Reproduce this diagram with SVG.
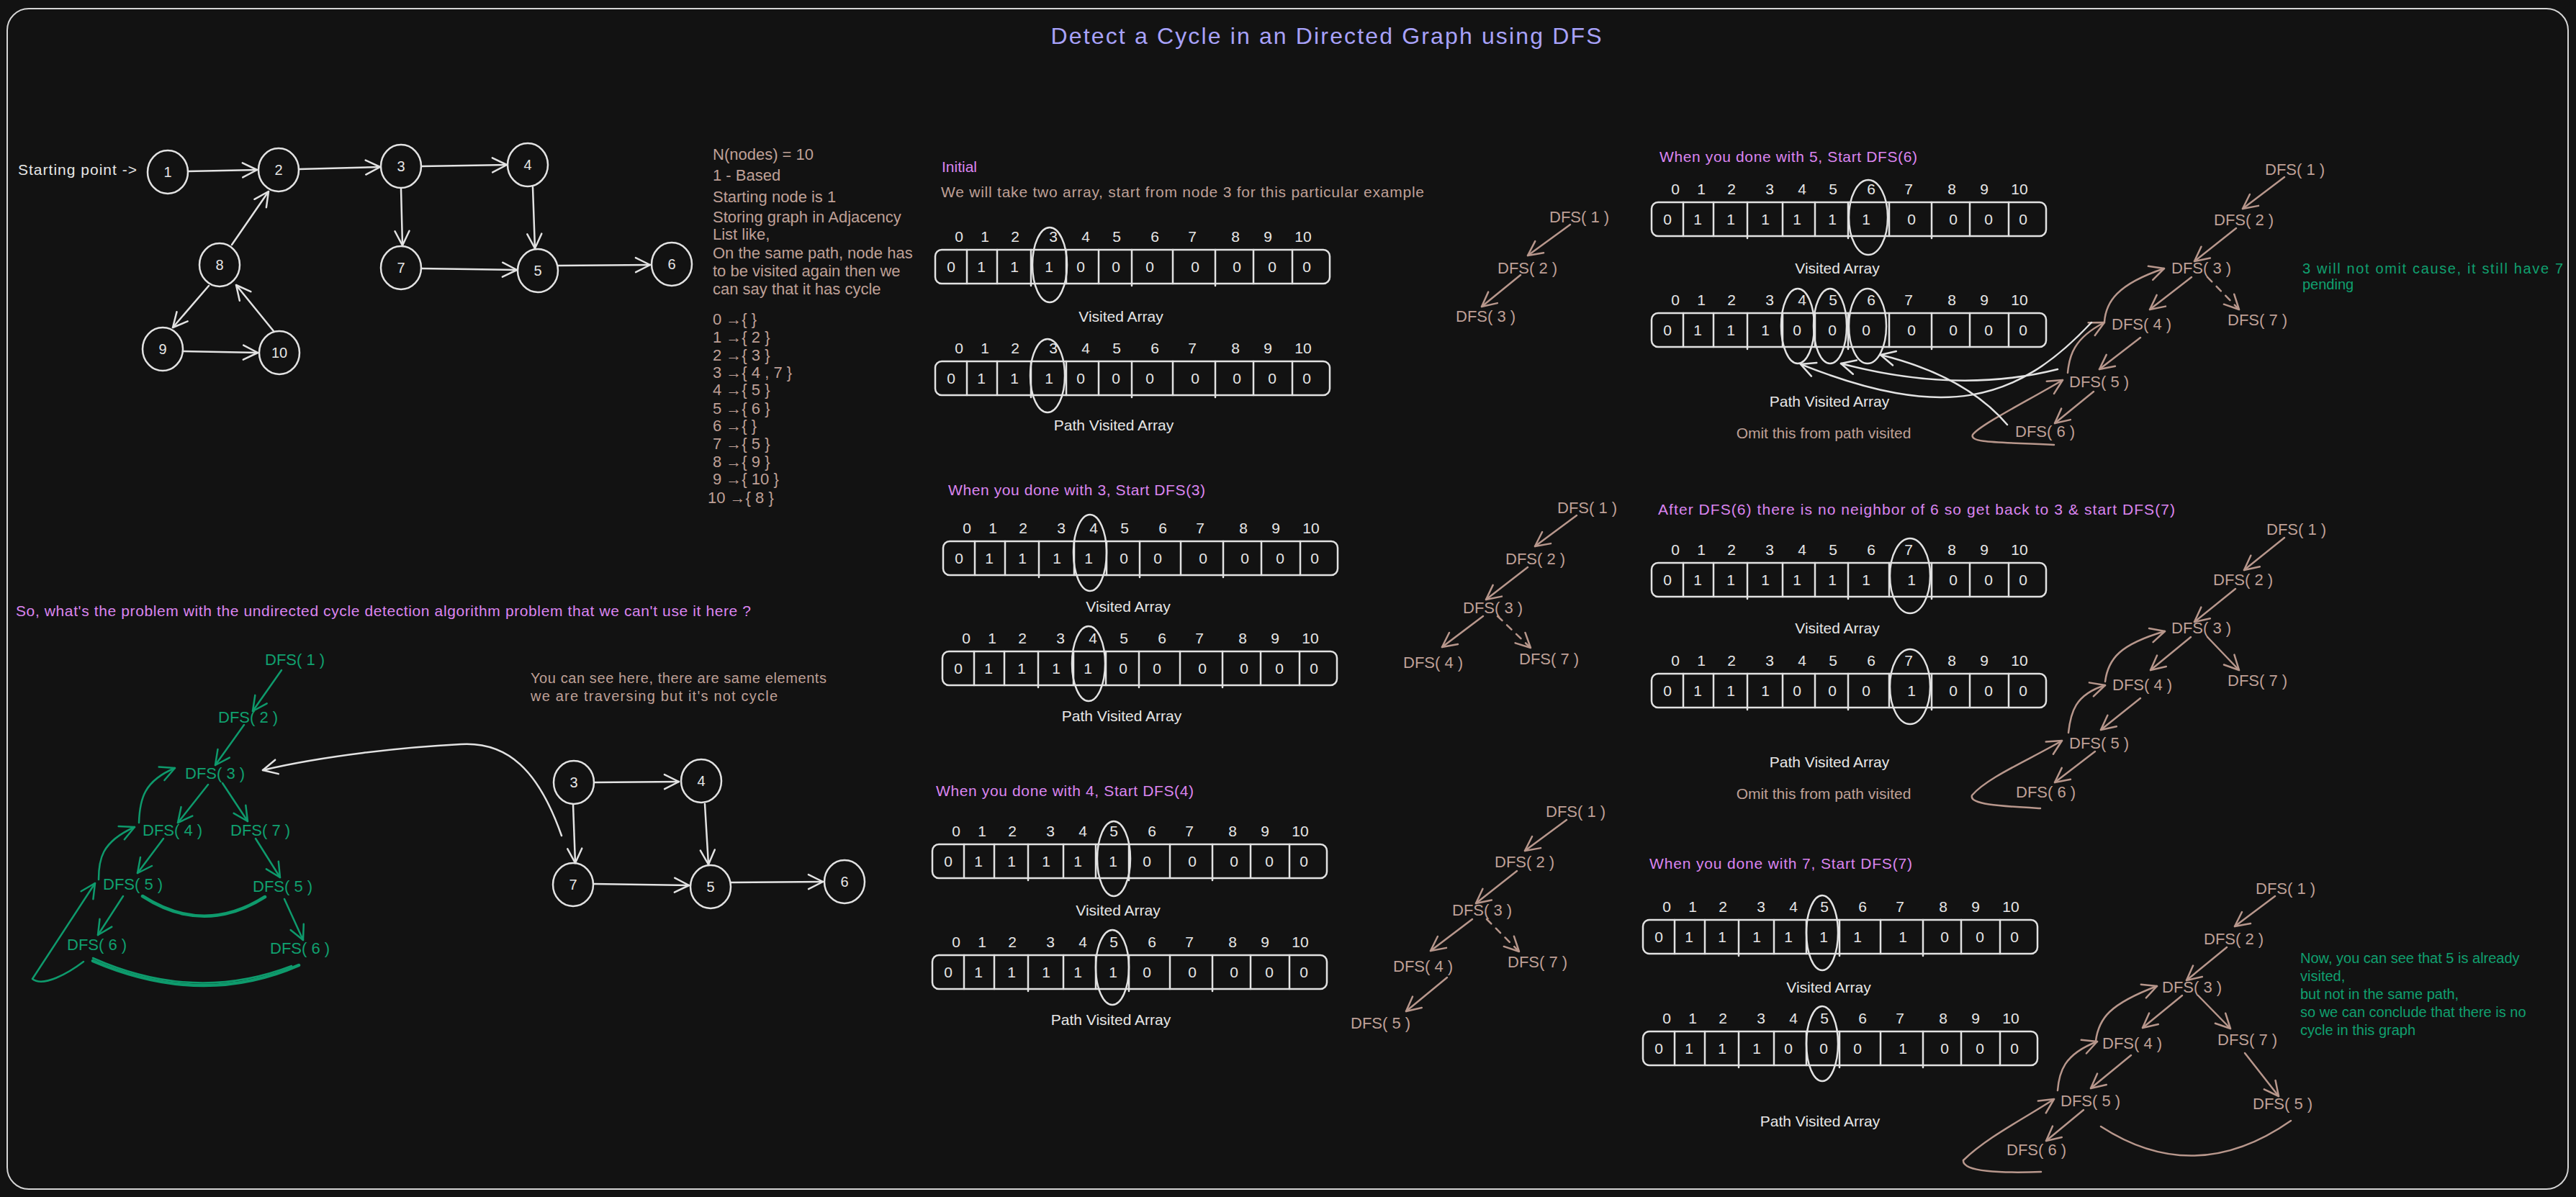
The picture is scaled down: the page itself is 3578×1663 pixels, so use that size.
<svg xmlns="http://www.w3.org/2000/svg" width="3578" height="1663" viewBox="0 0 3578 1663">
<defs>
<style>
text{font-family:"Liberation Sans","DejaVu Sans",sans-serif;font-size:21px}
.w{fill:none;stroke:#e2e2e2;stroke-width:2.5;stroke-linecap:round;stroke-linejoin:round}
.tn{fill:none;stroke:#b8978c;stroke-width:2.5;stroke-linecap:round;stroke-linejoin:round}
.gr{fill:none;stroke:#0e9a6c;stroke-width:2.5;stroke-linecap:round;stroke-linejoin:round}
.thick{stroke-width:4.5}
.dash{stroke-dasharray:9 9}
.cw{fill:#e6e6e6}.ct{fill:#bfa097}.cp{fill:#db85f0}.cg{fill:#10a06f}
.num{font-size:21px;text-anchor:middle;fill:#e6e6e6}
.nd{font-size:20px;text-anchor:middle;fill:#e6e6e6}
.dfs text{font-size:22px}
.info text{font-size:22px}
.mid{text-anchor:middle}
.aw{marker-end:url(#mw)}.at{marker-end:url(#mt)}.ag{marker-end:url(#mg)}
</style>
<marker id="mw" viewBox="-24 -14 28 28" refX="0" refY="0" markerWidth="28" markerHeight="28" markerUnits="userSpaceOnUse" orient="auto"><path d="M-20,-10 L0,0 L-20,10" fill="none" stroke="#e2e2e2" stroke-width="2.5" stroke-linecap="round" stroke-linejoin="round"/></marker>
<marker id="mt" viewBox="-24 -14 28 28" refX="0" refY="0" markerWidth="28" markerHeight="28" markerUnits="userSpaceOnUse" orient="auto"><path d="M-20,-10 L0,0 L-20,10" fill="none" stroke="#b8978c" stroke-width="2.5" stroke-linecap="round" stroke-linejoin="round"/></marker>
<marker id="mg" viewBox="-24 -14 28 28" refX="0" refY="0" markerWidth="28" markerHeight="28" markerUnits="userSpaceOnUse" orient="auto"><path d="M-20,-10 L0,0 L-20,10" fill="none" stroke="#0e9a6c" stroke-width="2.5" stroke-linecap="round" stroke-linejoin="round"/></marker>
<g id="arr">
<rect x="0" y="0" width="548" height="47" rx="9" class="w"/>
<path class="w" d="M44,0V47M86,0V47M133,0V50M182,0V47M227,0V47M273,0V50M330,0V47M389,0V50M442,0V47M496,0V47"/>
<text class="num" x="33 69 111 164 209 252 305 357 417 462" y="-11">0123456789</text>
<text class="num" x="511" y="-11">10</text>
</g>
</defs>
<rect x="0" y="0" width="3578" height="1663" fill="#121212"/>
<rect x="10" y="12" width="3557" height="1640" rx="30" fill="none" stroke="#d5d5d5" stroke-width="2"/>
<text x="1842" y="61" text-anchor="middle" fill="#a8a2fb" textLength="765" style="font-size:32px">Detect a Cycle in an Directed Graph using DFS</text>

<!-- top-left graph -->
<text class="cw" x="25" y="243" textLength="165">Starting point -&gt;</text>
<g id="g1n1"><ellipse class="w" cx="233" cy="239" rx="28" ry="30"/><text class="nd" x="233" y="246">1</text></g>
<g id="g1n2"><ellipse class="w" cx="387" cy="236" rx="28" ry="30"/><text class="nd" x="387" y="243">2</text></g>
<g id="g1n3"><ellipse class="w" cx="557" cy="231" rx="28" ry="30"/><text class="nd" x="557" y="238">3</text></g>
<g id="g1n4"><ellipse class="w" cx="733" cy="229" rx="28" ry="30"/><text class="nd" x="733" y="236">4</text></g>
<g id="g1n5"><ellipse class="w" cx="747" cy="376" rx="28" ry="30"/><text class="nd" x="747" y="383">5</text></g>
<g id="g1n6"><ellipse class="w" cx="933" cy="367" rx="28" ry="30"/><text class="nd" x="933" y="374">6</text></g>
<g id="g1n7"><ellipse class="w" cx="557" cy="372" rx="28" ry="30"/><text class="nd" x="557" y="379">7</text></g>
<g id="g1n8"><ellipse class="w" cx="305" cy="368" rx="28" ry="30"/><text class="nd" x="305" y="375">8</text></g>
<g id="g1n9"><ellipse class="w" cx="226" cy="485" rx="28" ry="30"/><text class="nd" x="226" y="492">9</text></g>
<g id="g1n10"><ellipse class="w" cx="388" cy="490" rx="28" ry="30"/><text class="nd" x="388" y="497">10</text></g>
<g id="g1edges">
<path class="w aw" d="M261,238 L357,236"/>
<path class="w aw" d="M415,235 L528,232"/>
<path class="w aw" d="M586,231 L704,229"/>
<path class="w aw" d="M557,262 L559,341"/>
<path class="w aw" d="M740,260 L743,345"/>
<path class="w aw" d="M586,373 L718,375"/>
<path class="w aw" d="M775,369 L903,368"/>
<path class="w aw" d="M322,340 L373,266"/>
<path class="w aw" d="M290,397 L240,455"/>
<path class="w aw" d="M380,460 L328,396"/>
<path class="w aw" d="M254,488 L358,490"/>
</g>

<!-- text block -->
<g id="info" class="ct info">
<text x="990" y="222">N(nodes) = 10</text>
<text x="990" y="251">1 - Based</text>
<text x="990" y="281">Starting node is 1</text>
<text x="990" y="309">Storing graph in Adjacency</text>
<text x="990" y="333">List like,</text>
<text x="990" y="359">On the same path, node has</text>
<text x="990" y="384">to be visited again then we</text>
<text x="990" y="409">can say that it has cycle</text>
<text x="990" y="451">0 →{ }</text>
<text x="990" y="476">1 →{ 2 }</text>
<text x="990" y="501">2 →{ 3 }</text>
<text x="990" y="525">3 →{ 4 , 7 }</text>
<text x="990" y="549">4 →{ 5 }</text>
<text x="990" y="575">5 →{ 6 }</text>
<text x="990" y="599">6 →{ }</text>
<text x="990" y="624">7 →{ 5 }</text>
<text x="990" y="649">8 →{ 9 }</text>
<text x="990" y="673">9 →{ 10 }</text>
<text x="983" y="699">10 →{ 8 }</text>
</g>

<!-- Initial section -->
<text class="cp" x="1308" y="239">Initial</text>
<text class="ct" x="1307" y="274" textLength="671">We will take two array, start from node 3 for this particular example</text>
<g id="arrA1" transform="translate(1299,347)"><use href="#arr"/><text class="num" x="22 64 110 158 202 251 298 361 419 468 516" y="31">01110000000</text><ellipse class="w" cx="159" cy="21" rx="24" ry="52"/></g>
<text class="cw mid" x="1557" y="447">Visited Array</text>
<g id="arrA2" transform="translate(1299,502)"><use href="#arr"/><text class="num" x="22 64 110 158 202 251 298 361 419 468 516" y="31">01110000000</text><ellipse class="w" cx="156" cy="20" rx="24" ry="51"/></g>
<text class="cw mid" x="1547" y="598">Path Visited Array</text>

<!-- done with 3 -->
<text class="cp" x="1317" y="688" textLength="357">When you done with 3, Start DFS(3)</text>
<g id="arrB1" transform="translate(1310,752)"><use href="#arr"/><text class="num" x="22 64 110 158 202 251 298 361 419 468 516" y="31">01111000000</text><ellipse class="w" cx="204" cy="16" rx="23" ry="53"/></g>
<text class="cw mid" x="1567" y="850">Visited Array</text>
<g id="arrB2" transform="translate(1309,905)"><use href="#arr"/><text class="num" x="22 64 110 158 202 251 298 361 419 468 516" y="31">01111000000</text><ellipse class="w" cx="203" cy="17" rx="23" ry="52"/></g>
<text class="cw mid" x="1558" y="1002">Path Visited Array</text>

<!-- done with 4 -->
<text class="cp" x="1300" y="1106" textLength="358">When you done with 4, Start DFS(4)</text>
<g id="arrC1" transform="translate(1295,1173)"><use href="#arr"/><text class="num" x="22 64 110 158 202 251 298 361 419 468 516" y="31">01111100000</text><ellipse class="w" cx="252" cy="20" rx="23" ry="52"/></g>
<text class="cw mid" x="1553" y="1272">Visited Array</text>
<g id="arrC2" transform="translate(1295,1327)"><use href="#arr"/><text class="num" x="22 64 110 158 202 251 298 361 419 468 516" y="31">01111100000</text><ellipse class="w" cx="250" cy="17" rx="23" ry="52"/></g>
<text class="cw mid" x="1543" y="1424">Path Visited Array</text>

<!-- done with 5 -->
<text class="cp" x="2305" y="225" textLength="358">When you done with 5, Start DFS(6)</text>
<g id="arrD1" transform="translate(2294,281)"><use href="#arr"/><text class="num" x="22 64 110 158 202 251 298 361 419 468 516" y="31">01111110000</text><ellipse class="w" cx="301" cy="21" rx="27" ry="52"/></g>
<text class="cw mid" x="2552" y="380">Visited Array</text>
<g id="arrD2" transform="translate(2294,435)"><use href="#arr"/><text class="num" x="22 64 110 158 202 251 298 361 419 468 516" y="31">01110000000</text><ellipse class="w" cx="203" cy="18" rx="23" ry="52"/><ellipse class="w" cx="248" cy="18" rx="23" ry="52"/><ellipse class="w" cx="300" cy="18" rx="26" ry="52"/></g>
<text class="cw mid" x="2541" y="565">Path Visited Array</text>
<text class="ct mid" x="2533" y="609">Omit this from path visited</text>

<!-- after DFS(6) -->
<text class="cp" x="2303" y="715" textLength="718">After DFS(6) there is no neighbor of 6 so get back to 3 &amp; start DFS(7)</text>
<g id="arrE1" transform="translate(2294,782)"><use href="#arr"/><text class="num" x="22 64 110 158 202 251 298 361 419 468 516" y="31">01111111000</text><ellipse class="w" cx="359" cy="18" rx="28" ry="52"/></g>
<text class="cw mid" x="2552" y="880">Visited Array</text>
<g id="arrE2" transform="translate(2294,936)"><use href="#arr"/><text class="num" x="22 64 110 158 202 251 298 361 419 468 516" y="31">01110001000</text><ellipse class="w" cx="359" cy="18" rx="28" ry="52"/></g>
<text class="cw mid" x="2541" y="1066">Path Visited Array</text>
<text class="ct mid" x="2533" y="1110">Omit this from path visited</text>

<!-- done with 7 -->
<text class="cp" x="2291" y="1207" textLength="365">When you done with  7, Start DFS(7)</text>
<g id="arrF1" transform="translate(2282,1278)"><use href="#arr"/><text class="num" x="22 64 110 158 202 251 298 361 419 468 516" y="31">01111111000</text><ellipse class="w" cx="249" cy="18" rx="22" ry="52"/></g>
<text class="cw mid" x="2540" y="1379">Visited Array</text>
<g id="arrF2" transform="translate(2282,1433)"><use href="#arr"/><text class="num" x="22 64 110 158 202 251 298 361 419 468 516" y="31">01110001000</text><ellipse class="w" cx="249" cy="17" rx="22" ry="52"/></g>
<text class="cw mid" x="2528" y="1565">Path Visited Array</text>

<!-- tree T1 -->
<g id="t1" class="ct dfs">
<text x="2152" y="309">DFS( 1 )</text>
<text x="2080" y="380">DFS( 2 )</text>
<text x="2022" y="447">DFS( 3 )</text>
</g>
<!-- tree T2 -->
<g id="t2" class="ct dfs">
<text x="2163" y="713">DFS( 1 )</text>
<text x="2091" y="784">DFS( 2 )</text>
<text x="2032" y="852">DFS( 3 )</text>
<text x="1949" y="928">DFS( 4 )</text>
<text x="2110" y="923">DFS( 7 )</text>
</g>
<!-- tree T3 -->
<g id="t3" class="ct dfs">
<text x="2147" y="1135">DFS( 1 )</text>
<text x="2076" y="1205">DFS( 2 )</text>
<text x="2017" y="1272">DFS( 3 )</text>
<text x="1935" y="1350">DFS( 4 )</text>
<text x="2094" y="1344">DFS( 7 )</text>
<text x="1876" y="1429">DFS( 5 )</text>
</g>
<!-- tree T4 -->
<g id="t4" class="ct dfs">
<text x="3146" y="243">DFS( 1 )</text>
<text x="3075" y="313">DFS( 2 )</text>
<text x="3016" y="380">DFS( 3 )</text>
<text x="2933" y="458">DFS( 4 )</text>
<text x="3094" y="452">DFS( 7 )</text>
<text x="2874" y="538">DFS( 5 )</text>
<text x="2799" y="607">DFS( 6 )</text>
</g>
<text class="cg" x="3198" y="380" style="font-size:20px" textLength="362">3 will not omit cause, it still have 7</text>
<text class="cg" x="3198" y="402" style="font-size:20px">pending</text>
<!-- tree T5 -->
<g id="t5" class="ct dfs">
<text x="3148" y="743">DFS( 1 )</text>
<text x="3074" y="813">DFS( 2 )</text>
<text x="3016" y="880">DFS( 3 )</text>
<text x="2934" y="959">DFS( 4 )</text>
<text x="3094" y="953">DFS( 7 )</text>
<text x="2874" y="1040">DFS( 5 )</text>
<text x="2800" y="1108">DFS( 6 )</text>
</g>
<!-- tree T6 -->
<g id="t6" class="ct dfs">
<text x="3133" y="1242">DFS( 1 )</text>
<text x="3061" y="1312">DFS( 2 )</text>
<text x="3003" y="1379">DFS( 3 )</text>
<text x="2920" y="1457">DFS( 4 )</text>
<text x="3080" y="1452">DFS( 7 )</text>
<text x="2862" y="1537">DFS( 5 )</text>
<text x="3129" y="1541">DFS( 5 )</text>
<text x="2787" y="1605">DFS( 6 )</text>
</g>
<g id="note6" class="cg">
<text x="3195" y="1338" style="font-size:20px">Now, you can see that 5 is already</text>
<text x="3195" y="1363" style="font-size:20px">visited,</text>
<text x="3195" y="1388" style="font-size:20px">but not in the same path,</text>
<text x="3195" y="1413" style="font-size:20px">so we can conclude that there is no</text>
<text x="3195" y="1438" style="font-size:20px">cycle in this graph</text>
</g>

<!-- bottom-left -->
<text class="cp" x="22" y="856" textLength="1021">So, what's the problem with the undirected cycle detection algorithm problem that we can't use it here ?</text>
<g id="gt" class="cg dfs">
<text x="368" y="924">DFS( 1 )</text>
<text x="303" y="1004">DFS( 2 )</text>
<text x="257" y="1082">DFS( 3 )</text>
<text x="198" y="1161">DFS( 4 )</text>
<text x="320" y="1161">DFS( 7 )</text>
<text x="143" y="1236">DFS( 5 )</text>
<text x="351" y="1239">DFS( 5 )</text>
<text x="93" y="1320">DFS( 6 )</text>
<text x="375" y="1325">DFS( 6 )</text>
</g>
<text class="ct" x="737" y="949" style="font-size:20px" textLength="411">You can see here, there are same elements</text>
<text class="ct" x="737" y="974" style="font-size:20px" textLength="343">we are traversing but it's not cycle</text>
<g id="g2n3"><ellipse class="w" cx="797" cy="1087" rx="28" ry="30"/><text class="nd" x="797" y="1094">3</text></g>
<g id="g2n4"><ellipse class="w" cx="974" cy="1085" rx="28" ry="30"/><text class="nd" x="974" y="1092">4</text></g>
<g id="g2n7"><ellipse class="w" cx="796" cy="1229" rx="28" ry="30"/><text class="nd" x="796" y="1236">7</text></g>
<g id="g2n5"><ellipse class="w" cx="987" cy="1232" rx="28" ry="30"/><text class="nd" x="987" y="1239">5</text></g>
<g id="g2n6"><ellipse class="w" cx="1173" cy="1225" rx="28" ry="30"/><text class="nd" x="1173" y="1232">6</text></g>

<!-- connectors -->
<g id="connectors">
<path class="w aw" d="M825,1087 L943,1086"/>
<path class="w aw" d="M796,1118 L799,1199"/>
<path class="w aw" d="M979,1117 L984,1201"/>
<path class="w aw" d="M825,1228 L957,1230"/>
<path class="w aw" d="M1015,1226 L1143,1225"/>
<path class="w aw" d="M780,1161 C748,1070 705,1030 640,1034 C560,1038 450,1050 365,1070"/>
<!-- green tree -->
<path class="gr ag" d="M391,931 L351,988"/>
<path class="gr ag" d="M339,1007 L299,1063"/>
<path class="gr ag" d="M289,1090 L247,1143"/>
<path class="gr ag" d="M309,1088 L344,1141"/>
<path class="gr ag" d="M227,1165 L191,1213"/>
<path class="gr ag" d="M355,1165 L389,1219"/>
<path class="gr ag" d="M171,1245 L136,1299"/>
<path class="gr ag" d="M395,1249 L421,1306"/>
<path class="gr ag" d="M137,1222 C137,1195 140,1170 187,1149"/>
<path class="gr ag" d="M193,1143 C194,1110 200,1085 243,1067"/>
<path class="gr ag" d="M116,1336 C95,1352 60,1372 45,1360 L132,1227"/>
<path class="gr thick" d="M198,1245 Q283,1300 368,1246"/>
<path class="gr thick" d="M129,1335 Q280,1400 415,1341"/>
<path class="gr" d="M129,1331 Q270,1394 405,1342"/>
<!-- T1 -->
<path class="tn at" d="M2181,312 L2122,355"/>
<path class="tn at" d="M2112,382 L2058,426"/>
<!-- T2 -->
<path class="tn at" d="M2190,716 L2132,759"/>
<path class="tn at" d="M2122,788 L2064,833"/>
<path class="tn at" d="M2060,856 L2003,899"/>
<path class="tn at dash" d="M2080,856 L2126,900"/>
<!-- T3 -->
<path class="tn at" d="M2176,1139 L2118,1182"/>
<path class="tn at" d="M2107,1210 L2050,1255"/>
<path class="tn at" d="M2045,1277 L1987,1321"/>
<path class="tn at dash" d="M2065,1277 L2110,1322"/>
<path class="tn at" d="M2010,1358 L1953,1405"/>
<!-- T4 -->
<path class="tn at" d="M3173,246 L3115,290"/>
<path class="tn at" d="M3106,317 L3048,363"/>
<path class="tn at" d="M3044,385 L2986,430"/>
<path class="tn at dash" d="M3066,385 L3110,430"/>
<path class="tn at" d="M2973,469 L2916,513"/>
<path class="tn at" d="M2908,544 L2854,588"/>
<path class="tn at" d="M2853,618 C2780,614 2735,616 2740,604 C2750,590 2820,555 2865,528"/>
<path class="tn at" d="M2872,518 C2874,495 2880,470 2923,448"/>
<path class="tn at" d="M2923,447 C2925,420 2940,395 3006,373"/>
<path class="w aw" d="M2788,590 Q2730,522 2612,493"/>
<path class="w aw" d="M2858,513 Q2720,548 2557,505"/>
<path class="w aw" d="M2905,448 C2800,560 2700,585 2501,506"/>
<!-- T5 -->
<path class="tn at" d="M3173,747 L3117,792"/>
<path class="tn at" d="M3105,818 L3048,864"/>
<path class="tn at" d="M3043,885 L2987,931"/>
<path class="tn at" d="M3066,885 L3110,931"/>
<path class="tn at" d="M2973,970 L2918,1014"/>
<path class="tn at" d="M2910,1044 L2854,1087"/>
<path class="tn at" d="M2834,1123 C2780,1120 2735,1118 2739,1105 C2760,1080 2820,1055 2864,1029"/>
<path class="tn at" d="M2873,1018 C2876,990 2882,965 2924,952"/>
<path class="tn at" d="M2924,947 C2928,915 2945,895 3007,877"/>
<!-- T6 -->
<path class="tn at" d="M3160,1245 L3104,1287"/>
<path class="tn at" d="M3093,1316 L3037,1362"/>
<path class="tn at" d="M3031,1383 L2976,1428"/>
<path class="tn at" d="M3053,1383 L3098,1429"/>
<path class="tn at" d="M2960,1466 L2904,1512"/>
<path class="tn at" d="M3118,1463 L3165,1523"/>
<path class="tn at" d="M2894,1542 L2842,1585"/>
<path class="tn at" d="M2858,1515 C2860,1490 2866,1465 2913,1447"/>
<path class="tn at" d="M2911,1446 C2915,1415 2930,1395 2996,1370"/>
<path class="tn at" d="M2835,1628 C2780,1630 2725,1628 2727,1612 C2760,1580 2810,1555 2853,1527"/>
<path class="tn" d="M2918,1565 Q3049,1650 3182,1557"/>
</g>
</svg>
